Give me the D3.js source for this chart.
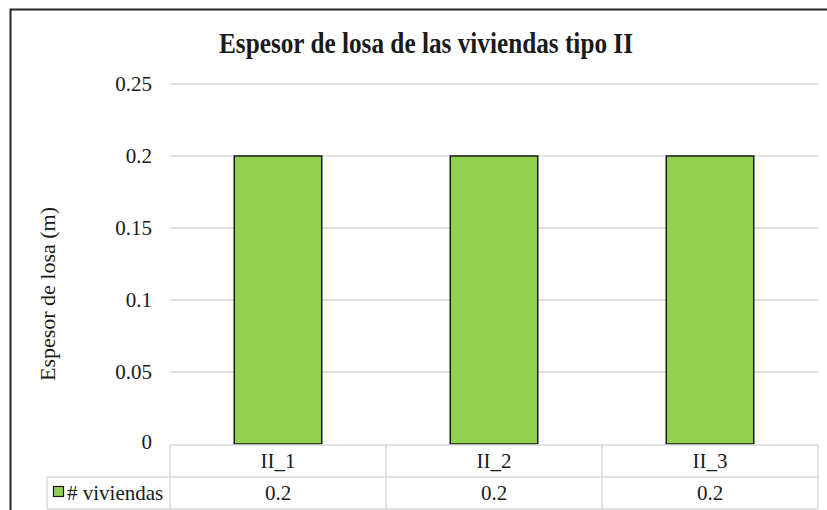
<!DOCTYPE html>
<html>
<head>
<meta charset="utf-8">
<script src="https://cdn.jsdelivr.net/npm/d3@7"></script>
<style>
  html, body { margin: 0; padding: 0; background: #fff; }
  svg { display: block; }
  svg text { font-family: "Liberation Serif", "DejaVu Serif", serif; fill: #1a1a1a; }
</style>
</head>
<body>
<svg id="chart" width="827" height="510"></svg>
<script>
// Chart data
const categories = ["II_1", "II_2", "II_3"];
const seriesName = "# viviendas";
const values = [0.2, 0.2, 0.2];
const yTicks = [0, 0.05, 0.1, 0.15, 0.2, 0.25];
const tickLabels = ["0", "0.05", "0.1", "0.15", "0.2", "0.25"];
const title = "Espesor de losa de las viviendas tipo II";
const yTitle = "Espesor de losa (m)";

const serif = "'Liberation Serif', 'DejaVu Serif', serif";
const svg = d3.select("#chart");
const plot = { left: 170, right: 818, top: 84, bottom: 444 };
const rowH = 32;

// Outer chart frame (right and bottom edges run past the canvas)
svg.append("path")
  .attr("d", "M10.5,520 L10.5,9.5 L840,9.5")
  .attr("fill", "none").attr("stroke", "#262626").attr("stroke-width", 2);

const x = d3.scaleBand().domain(categories).range([plot.left, plot.right]).paddingInner(0.595).paddingOuter(0.2975);
const xCol = d3.scaleBand().domain(categories).range([plot.left, plot.right]);
const y = d3.scaleLinear().domain([0, 0.25]).range([plot.bottom, plot.top]);

// Horizontal gridlines
svg.append("g").selectAll("line").data(yTicks.filter(t => t > 0)).join("line")
  .attr("x1", plot.left).attr("x2", plot.right)
  .attr("y1", d => y(d)).attr("y2", d => y(d))
  .attr("stroke", "#d9d9d9").attr("stroke-width", 1.5);

// Value axis labels
const yAxis = d3.axisLeft(y).tickValues(yTicks)
  .tickFormat((d, i) => tickLabels[i]).tickSize(0).tickPadding(18);
const ya = svg.append("g").attr("transform", `translate(${plot.left},0)`).call(yAxis);
ya.select(".domain").remove();
ya.selectAll("text").style("font-family", serif).style("font-size", "21px").attr("fill", "#1a1a1a");
ya.selectAll(".tick").filter(d => d === 0).select("text").attr("dy", "0.2em");

// Bars
svg.append("g").selectAll("rect").data(values).join("rect")
  .attr("x", (d, i) => x(categories[i]))
  .attr("y", d => y(d))
  .attr("width", x.bandwidth())
  .attr("height", d => y(0) - y(d))
  .attr("fill", "#92d050").attr("stroke", "#1a1a1a").attr("stroke-width", 1.5);

// Data table below the plot
const tbl = svg.append("g").attr("stroke", "#d9d9d9").attr("stroke-width", 1.5).attr("fill", "none");
const t0 = plot.bottom + 1, t1 = t0 + rowH, t2 = t1 + rowH;
const legendLeft = 47;
tbl.append("line").attr("x1", plot.left).attr("x2", plot.right).attr("y1", t0).attr("y2", t0);
tbl.append("line").attr("x1", legendLeft).attr("x2", plot.right).attr("y1", t1).attr("y2", t1);
tbl.append("line").attr("x1", legendLeft).attr("x2", plot.right).attr("y1", t2).attr("y2", t2);
tbl.append("line").attr("x1", legendLeft).attr("x2", legendLeft).attr("y1", t1).attr("y2", t2);
tbl.selectAll(".v").data(categories).join("line")
  .attr("x1", d => xCol(d)).attr("x2", d => xCol(d)).attr("y1", t0).attr("y2", t2);
tbl.append("line").attr("x1", plot.right).attr("x2", plot.right).attr("y1", t0).attr("y2", t2);

svg.append("g").selectAll("text").data(categories).join("text")
  .attr("x", d => xCol(d) + xCol.bandwidth() / 2).attr("y", (t0 + t1) / 2)
  .attr("text-anchor", "middle").attr("dy", "0.35em")
  .style("font-family", serif).style("font-size", "21px").text(d => d);
svg.append("g").selectAll("text").data(values).join("text")
  .attr("x", (d, i) => xCol(categories[i]) + xCol.bandwidth() / 2).attr("y", (t1 + t2) / 2)
  .attr("text-anchor", "middle").attr("dy", "0.35em")
  .style("font-family", serif).style("font-size", "21px").text(d => d);

// Legend key inside the table
svg.append("rect").attr("x", 53.5).attr("y", 486.5).attr("width", 10).attr("height", 10)
  .attr("fill", "#92d050").attr("stroke", "#1a1a1a").attr("stroke-width", 1.2);
svg.append("text").attr("x", 67).attr("y", (t1 + t2) / 2).attr("dy", "0.35em")
  .style("font-family", serif).style("font-size", "21px").text(seriesName);

// Titles
svg.append("text").attr("x", 426).attr("y", 53).attr("text-anchor", "middle")
  .attr("textLength", 414).attr("lengthAdjust", "spacingAndGlyphs")
  .style("font-family", serif).style("font-size", "29px").style("font-weight", "bold").text(title);
svg.append("text").attr("transform", "translate(47,294) rotate(-90)")
  .attr("text-anchor", "middle").attr("dy", "0.35em")
  .style("font-family", serif).style("font-size", "22px").text(yTitle);
</script>
</body>
</html>
